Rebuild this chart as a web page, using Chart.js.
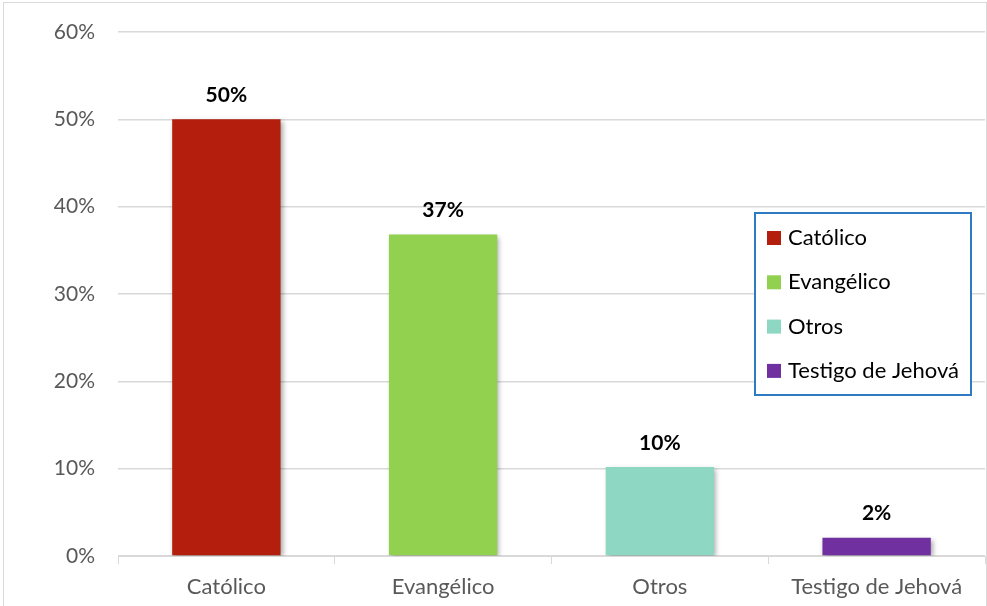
<!DOCTYPE html>
<html>
<head>
<meta charset="utf-8">
<script src="https://cdn.jsdelivr.net/npm/chart.js@4/dist/chart.umd.min.js"></script>
<style>
  html, body { margin: 0; padding: 0; background: #fff; }
  canvas { display: block; }
</style>
</head>
<body>
<canvas id="religionChart" width="987" height="606"></canvas>
<script>
// Chart data
const categories = ['Católico', 'Evangélico', 'Otros', 'Testigo de Jehová'];
const shares = [50, 36.8, 10.2, 2.1];
const barColors = ['#B41E0C', '#92D050', '#8ED7C3', '#7030A0'];
const yTicks = [0, 10, 20, 30, 40, 50, 60];

const FONT = 'Lato, "Liberation Sans", sans-serif';

// frame around the whole picture
const framePlugin = {
    id: 'frame',
    beforeDraw(chart) {
        const ctx = chart.ctx;
        ctx.save();
        ctx.strokeStyle = '#d9d9d9';
        ctx.lineWidth = 1;
        ctx.strokeRect(3.5, 2.5, 983, 640);
        ctx.restore();
    }
};

// soft shadow under bars
const shadowPlugin = {
    id: 'barShadow',
    beforeDatasetDraw(chart) {
        const ctx = chart.ctx;
        ctx.save();
        ctx.shadowColor = 'rgba(0,0,0,0.35)';
        ctx.shadowBlur = 5;
        ctx.shadowOffsetX = 2;
        ctx.shadowOffsetY = 2;
    },
    afterDatasetDraw(chart) {
        chart.ctx.restore();
    }
};

// value labels above each bar
const valueLabels = {
    id: 'valueLabels',
    afterDatasetsDraw(chart) {
        const ctx = chart.ctx;
        const meta = chart.getDatasetMeta(0);
        ctx.save();
        ctx.font = 'bold 21px ' + FONT;
        ctx.fillStyle = '#000';
        ctx.textAlign = 'center';
        ctx.textBaseline = 'middle';
        meta.data.forEach((bar, i) => {
            ctx.fillText(Math.round(shares[i]) + '%', bar.x, bar.y - 24);
        });
        ctx.restore();
    }
};

// boxed legend inside the plot
const boxLegend = {
    id: 'boxLegend',
    afterDraw(chart) {
        const ctx = chart.ctx;
        const x = 755, y = 213, w = 216, h = 182;
        ctx.save();
        ctx.fillStyle = '#fff';
        ctx.fillRect(x, y, w, h);
        ctx.strokeStyle = '#2E7BC4';
        ctx.lineWidth = 2;
        ctx.strokeRect(x, y, w, h);
        ctx.font = '22px ' + FONT;
        ctx.textBaseline = 'middle';
        ctx.textAlign = 'left';
        categories.forEach((name, i) => {
            const cy = y + 25 + i * 44.3;
            ctx.fillStyle = barColors[i];
            ctx.fillRect(x + 12, cy - 7, 14, 14);
            ctx.fillStyle = '#000';
            ctx.fillText(name, x + 33, cy);
        });
        ctx.restore();
    }
};

function initChart() {
    const ctx = document.getElementById('religionChart').getContext('2d');
    new Chart(ctx, {
        type: 'bar',
        data: {
            labels: categories,
            datasets: [{
                data: shares,
                backgroundColor: barColors,
                barPercentage: 0.5,
                categoryPercentage: 1.0
            }]
        },
        options: {
            responsive: false,
            animation: false,
            layout: { padding: { top: 32, right: 2, left: 0, bottom: 0 } },
            plugins: {
                legend: { display: false },
                tooltip: { enabled: false }
            },
            scales: {
                x: {
                    grid: {
                        offset: true,
                        drawOnChartArea: false,
                        color: '#d9d9d9',
                        tickLength: 8
                    },
                    border: { color: '#d9d9d9', width: 1 },
                    ticks: {
                        color: '#595959',
                        font: { family: FONT, size: 22 },
                        padding: 10
                    },
                    afterFit(scale) { scale.height = 50; }
                },
                y: {
                    min: 0,
                    max: 60,
                    afterBuildTicks(scale) {
                        scale.ticks = yTicks.map(v => ({ value: v }));
                    },
                    grid: { color: '#d9d9d9', lineWidth: 1.5, drawTicks: false },
                    border: { display: false },
                    ticks: {
                        color: '#595959',
                        font: { family: FONT, size: 21 },
                        padding: 23,
                        callback: v => v + '%'
                    },
                    afterFit(scale) {
                        scale.width = 118;
                        scale.paddingTop = 0;
                        scale.paddingBottom = 0;
                    }
                }
            }
        },
        plugins: [framePlugin, shadowPlugin, valueLabels, boxLegend]
    });
}

window.onload = initChart;
</script>
</body>
</html>
